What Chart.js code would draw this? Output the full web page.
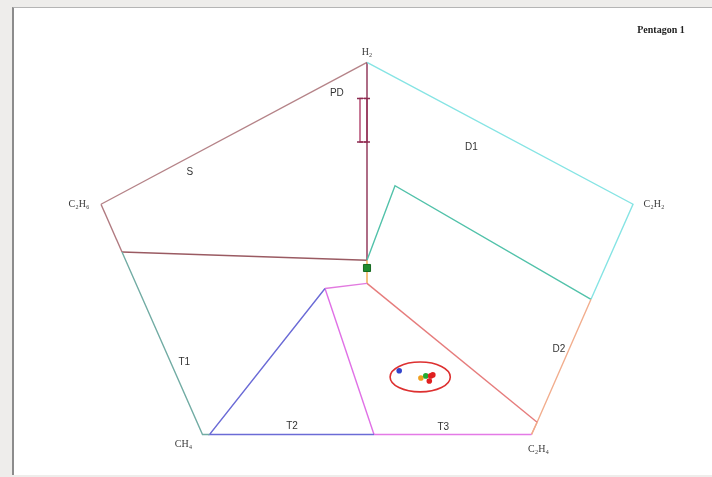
<!DOCTYPE html>
<html>
<head>
<meta charset="utf-8">
<script src="https://cdn.jsdelivr.net/npm/chart.js@4"></script>
<style>
    html, body { margin: 0; padding: 0; background: #eeedeb; }
    #wrap { position: relative; width: 712px; height: 477px; overflow: hidden; }
    #panel {
        position: absolute; left: 12px; top: 7px; width: 700px; height: 467px;
        background: #fff; border-left: 2px solid #8c8c8c; border-top: 1px solid #b5b5b5;
    }
    #pentagon { position: absolute; left: 0; top: 0; }
</style>
</head>
<body>
<div id="wrap">
    <div id="panel"></div>
    <canvas id="pentagon" width="712" height="477"></canvas>
</div>
<script>
// Duval pentagon 1: vertices and zone boundaries (pentagon units)
const vertexNames = ['H₂', 'C₂H₂', 'C₂H₄', 'CH₄', 'C₂H₆'];
const vertexX = [0, 38, 23.5, -23.5, -38];
const vertexY = [40, 12.4, -32.4, -32.4, 12.4];

const zoneS  = [[0, 1.5], [-35, 3.1], [-38, 12.4], [0, 40], [0, 24.5], [0, 1.5]];
const zonePD = [[0, 33], [-1, 33], [-1, 24.5], [0, 24.5], [0, 33]];
const zoneD1 = [[0, 40], [38, 12.4], [32, -6.1], [4, 16], [0, 1.5]];
const zoneD2 = [[32, -6.1], [24.3, -30], [23.5, -32.4]];
const zoneT3 = [[0, -3], [24.3, -30], [23.5, -32.4], [1, -32.4], [-6, -4], [0, -3]];
const zoneT2 = [[-6, -4], [-22.5, -32.4], [1, -32.4]];
const zoneT1 = [[-35, 3.1], [-23.5, -32.4], [-22.5, -32.4]];
const zoneCore = [[0, 1.5], [0, -3]];

const zoneLabels = ['PD', 'S', 'D1', 'D2', 'T1', 'T2', 'T3'];
const zoneLabelX = [-4.3, -25.3, 14.9, 27.4, -26.1, -10.7, 10.9];
const zoneLabelY = [34, 18.7, 23.5, -15.8, -18.3, -30.7, -30.9];

// gas samples plotted in the pentagon
const sampleX = [4.6, 7.7, 8.4, 9.1, 8.9, 9.4];
const sampleY = [-20.0, -21.4, -21.0, -21.0, -22.0, -20.8];
const sampleColors = ['#3344cc', '#f0a020', '#22aa33', '#e02020', '#e02020', '#e02020'];
const originX = [0];
const originY = [0];

// ellipse around the sample cluster (centre and half axes)
const clusterCenter = [7.6, -21.2];
const clusterRadius = [4.3, 2.9];

const toPoints = arr => arr.map(([x, y]) => ({ x, y }));

function zoneDataset(points, edgeColors) {
    return {
        data: toPoints(points),
        order: 2,
        showLine: true,
        borderWidth: 1.4,
        pointRadius: 0,
        borderColor: edgeColors[0],
        segment: { borderColor: c => edgeColors[c.p0DataIndex] },
        fill: false
    };
}

const labelPlugin = {
    id: 'pentagonLabels',
    afterDatasetsDraw(chart) {
        const { ctx, scales: { x, y } } = chart;
        ctx.save();

        // ellipse
        const cx = x.getPixelForValue(clusterCenter[0]);
        const cy = y.getPixelForValue(clusterCenter[1]);
        const rx = Math.abs(x.getPixelForValue(clusterCenter[0] + clusterRadius[0]) - cx);
        const ry = Math.abs(y.getPixelForValue(clusterCenter[1] + clusterRadius[1]) - cy);
        ctx.beginPath();
        ctx.ellipse(cx, cy, rx, ry, 0, 0, Math.PI * 2);
        ctx.strokeStyle = '#dd3030';
        ctx.lineWidth = 1.6;
        ctx.stroke();

        // zone names
        ctx.fillStyle = '#333';
        ctx.font = '10px "Liberation Sans", Arial, sans-serif';
        ctx.textAlign = 'center';
        ctx.textBaseline = 'middle';
        zoneLabels.forEach((t, i) => {
            ctx.fillText(t, x.getPixelForValue(zoneLabelX[i]), y.getPixelForValue(zoneLabelY[i]));
        });

        // vertex gases
        const offsets = [[0, -10], [21, 0], [7, 15], [-19, 10], [-22, 0]];
        ctx.fillStyle = '#3a3a3a';
        ctx.font = '10px "Liberation Serif", "DejaVu Serif", serif';
        vertexNames.forEach((t, i) => {
            ctx.fillText(t, x.getPixelForValue(vertexX[i]) + offsets[i][0],
                            y.getPixelForValue(vertexY[i]) + offsets[i][1]);
        });

        // title
        ctx.fillStyle = '#222';
        ctx.font = 'bold 10px "Liberation Serif", "DejaVu Serif", serif';
        ctx.fillText('Pentagon 1', 661, 30);
        ctx.restore();
    }
};

// datasets with a lower order are painted on top
const chart = new Chart(document.getElementById('pentagon').getContext('2d'), {
    type: 'scatter',
    data: {
        datasets: [
            zoneDataset(zoneT1, ['#72aca4', '#72aca4']),
            zoneDataset(zoneT2, ['#6b6bd6', '#6b6bd6']),
            zoneDataset(zoneT3, ['#e67c7c', '#f0aa8c', '#e47ae6', '#e070e6', '#e27ae0']),
            zoneDataset(zoneD2, ['#f2ae8e', '#f2ae8e']),
            zoneDataset(zoneD1, ['#86e4e4', '#86e4e4', '#52c2aa', '#52c2aa']),
            zoneDataset(zoneCore, ['#f2a848']),
            zoneDataset(zoneS, ['#9a5a62', '#b07a80', '#b58388', '#8c2e52', '#8c2e52']),
            zoneDataset(zonePD, ['#b0406a', '#b0406a', '#b0406a', '#b0406a']),
            {
                data: toPoints(zonePD.slice(0, 4)),
                order: 1,
                showLine: false,
                pointStyle: 'line',
                pointRadius: 3,
                borderWidth: 1.5,
                borderColor: '#8c2e52'
            },
            {
                data: originX.map((v, i) => ({ x: v, y: originY[i] })),
                order: 0,
                pointStyle: 'rect',
                pointRadius: 5,
                backgroundColor: '#1f8a2e',
                borderColor: '#166a20',
                borderWidth: 1
            },
            {
                data: sampleX.map((v, i) => ({ x: v, y: sampleY[i] })),
                order: 0,
                pointRadius: 2.8,
                backgroundColor: sampleColors,
                borderColor: sampleColors,
                borderWidth: 0
            }
        ]
    },
    options: {
        responsive: false,
        animation: false,
        devicePixelRatio: 1,
        layout: { padding: { left: 31, right: 9, top: 36.7, bottom: 13.7 } },
        plugins: { legend: { display: false }, tooltip: { enabled: false } },
        scales: {
            x: { type: 'linear', min: -48, max: 48, display: false },
            y: { type: 'linear', min: -38, max: 45, display: false }
        }
    },
    plugins: [labelPlugin]
});
</script>
</body>
</html>
